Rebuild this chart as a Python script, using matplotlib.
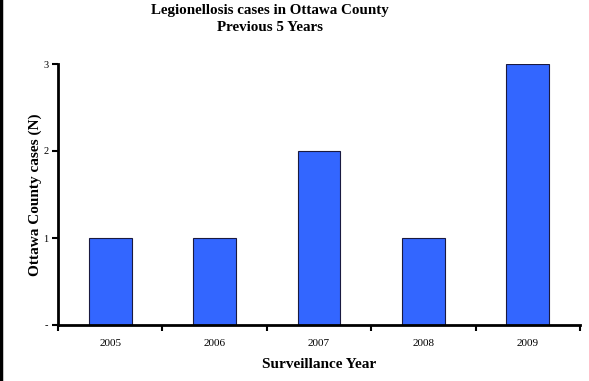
import numpy as np
import matplotlib.pyplot as plt
from matplotlib.lines import Line2D

years = ["2005", "2006", "2007", "2008", "2009"]
cases = [1, 1, 2, 1, 3]
y_ticks = [0, 1, 2, 3]
y_tick_labels = ["-", "1", "2", "3"]

plt.rcParams['font.family'] = ['Liberation Serif', 'DejaVu Serif']

fig = plt.figure(figsize=(5.89, 3.81), dpi=100)
ax = fig.add_axes([58/589, 1 - 325/381, (580 - 58)/589, (325 - 64)/381])

x = np.arange(len(years))
ax.bar(x, cases, width=0.41, color="#3366FF", edgecolor="#1a1a40", linewidth=0.8)

ax.set_xlim(-0.5, len(years) - 0.5)
ax.set_ylim(0, 3)
ax.set_yticks(y_ticks)
ax.set_yticklabels(y_tick_labels, fontsize=7.5)
ax.set_xticks(x)
ax.set_xticklabels(years, fontsize=8)
ax.tick_params(axis='x', length=0, pad=10)
ax.tick_params(axis='y', length=4, width=1.5, pad=3)
# tick marks between categories on x axis
ax.set_xticks(np.arange(len(years) + 1) - 0.5, minor=True)
ax.tick_params(axis='x', which='minor', length=4, width=1.5)

for s in ["top", "right"]:
    ax.spines[s].set_visible(False)
for s in ["left", "bottom"]:
    ax.spines[s].set_linewidth(2)

ax.set_ylabel("Ottawa County cases (N)", fontsize=11, fontweight='bold', labelpad=1)
ax.set_xlabel("Surveillance Year", fontsize=11, fontweight='bold', labelpad=7)

fig.text(270/589, 1 - 19/381, "Legionellosis cases in Ottawa County\nPrevious 5 Years",
         ha='center', va='center', fontsize=10.8, fontweight='bold', linespacing=1.45)

# border on the left edge
fig.add_artist(Line2D([0.002, 0.002], [0, 1], color='black', linewidth=2.5, transform=fig.transFigure))

fig.savefig("out.png", dpi=100)
